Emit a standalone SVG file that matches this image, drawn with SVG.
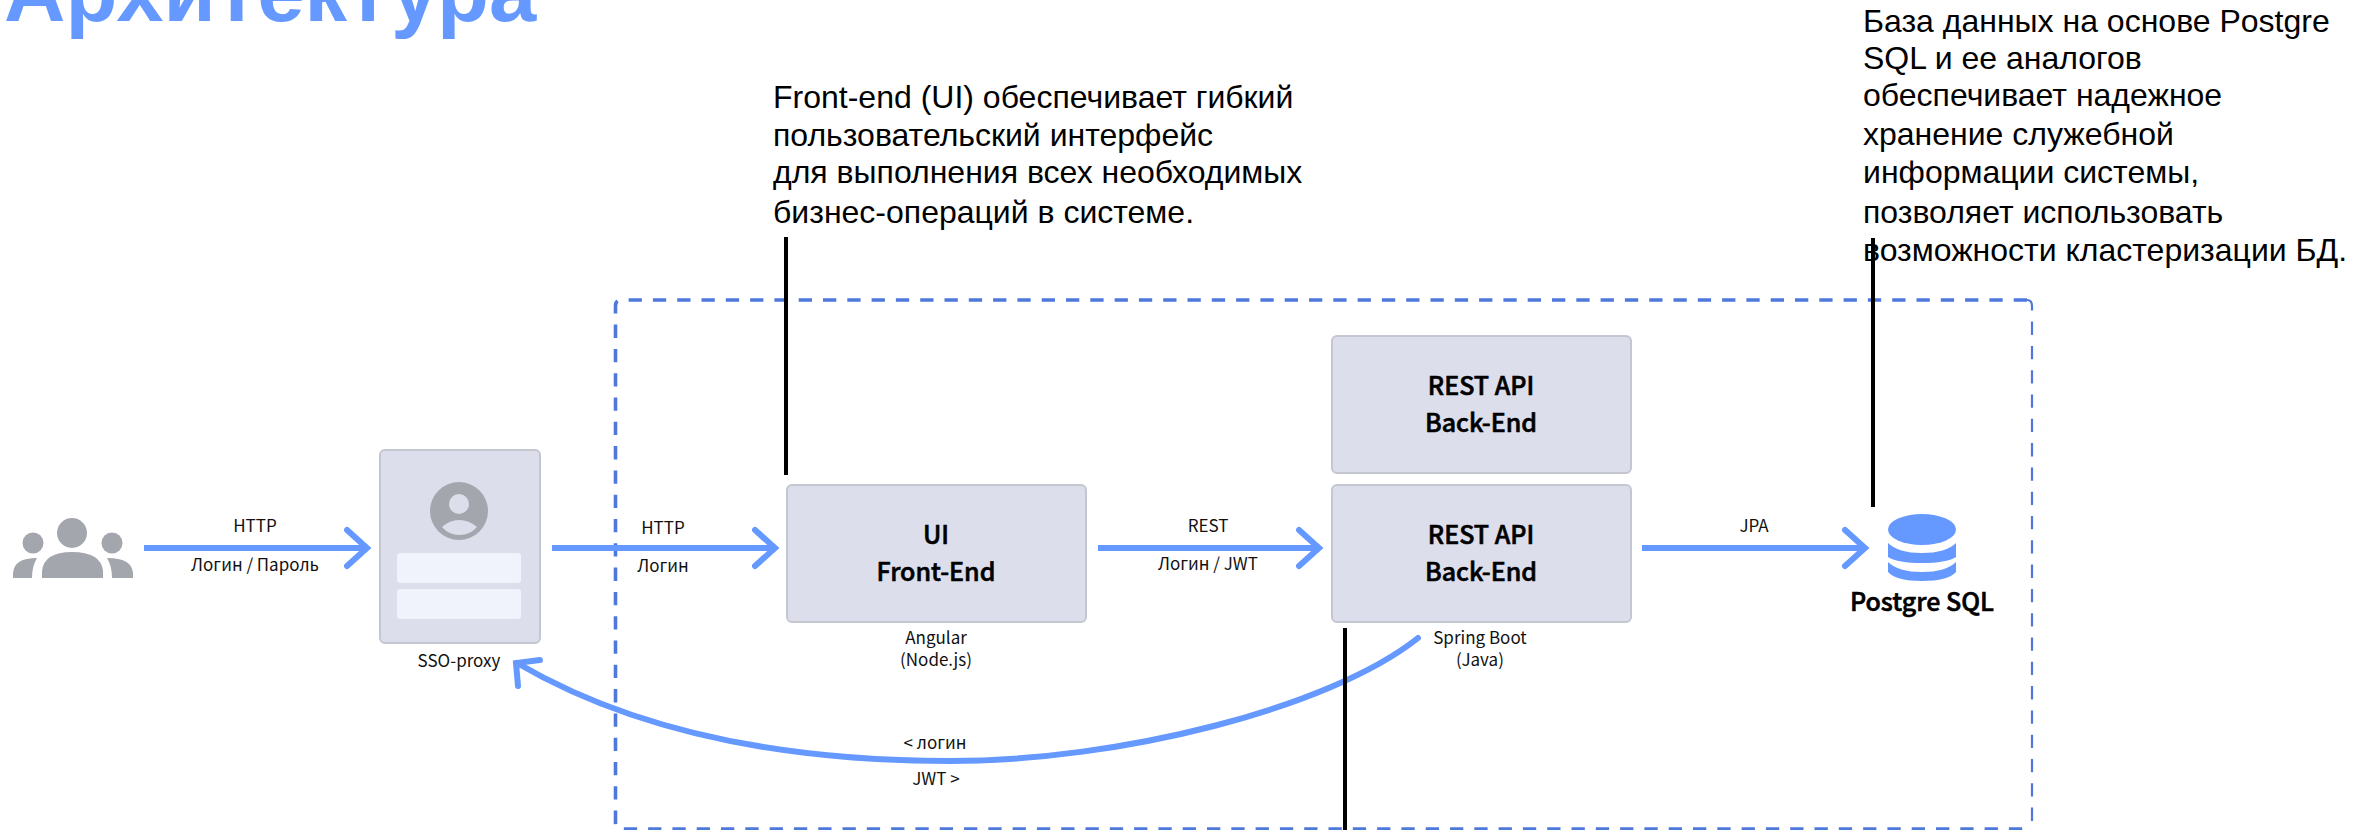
<svg xmlns="http://www.w3.org/2000/svg" width="2369" height="830" viewBox="0 0 2369 830">
<style>
.box{fill:#dcdfeb;stroke:#c4c6d0;stroke-width:2}
.row{fill:#f0f3fb}
.icon{fill:#a3a6ad}
.db{fill:#6699ff}
.flow{fill:none;stroke:#6699ff;stroke-width:6}
.curve{fill:none;stroke:#6699ff;stroke-width:6;stroke-linecap:round}
.lead{stroke:#000;stroke-width:4;fill:none}
.dash{fill:none;stroke:#4f78dc;stroke-dasharray:13.3 11}
.lbl{font-family:"Noto Sans CJK KR","Noto Sans",sans-serif;font-size:17px;fill:#111;text-anchor:middle}
.head{font-family:"Noto Sans CJK KR","Noto Sans",sans-serif;font-size:25px;font-weight:500;fill:#000;stroke:#000;stroke-width:0.6;text-anchor:middle}
.note{font-family:"Liberation Sans",Arial,sans-serif;font-size:32px;fill:#000}
.title{font-family:"Liberation Sans",Arial,sans-serif;font-size:85px;font-weight:700;fill:#6699ff}
</style>
<defs>
<marker id="ah" markerUnits="userSpaceOnUse" markerWidth="30" markerHeight="44" refX="24" refY="22" orient="auto" viewBox="0 0 30 44"><path d="M4 4L24 22L4 40" fill="none" stroke="#6699ff" stroke-width="6" stroke-linecap="round"/></marker>
</defs>
<text class="title" x="4" y="21">Архитектура</text>
<g id="note-ui">
<text class="note" x="773" y="108">Front-end (UI) обеспечивает гибкий</text>
<text class="note" x="773" y="146">пользовательский интерфейс</text>
<text class="note" x="773" y="183">для выполнения всех необходимых</text>
<text class="note" x="773" y="223">бизнес-операций в системе.</text>
</g>
<g id="note-db">
<text class="note" x="1863" y="32">База данных на основе Postgre</text>
<text class="note" x="1863" y="69">SQL и ее аналогов</text>
<text class="note" x="1863" y="106">обеспечивает надежное</text>
<text class="note" x="1863" y="145">хранение служебной</text>
<text class="note" x="1863" y="183">информации системы,</text>
<text class="note" x="1863" y="223">позволяет использовать</text>
<text class="note" x="1863" y="261">возможности кластеризации БД.</text>
</g>
<g id="boundary">
<path class="dash" stroke-width="3.6" d="M2027 300H621Q615.500 300 615.500 306V823Q615.500 829 621 829H2027"/>
<path class="dash" stroke-width="2.2" d="M2027 300Q2032 300 2032 306V823Q2032 829 2027 829"/>
</g>
<g id="users">
<circle class="icon" cx="72" cy="533" r="15"/>
<circle class="icon" cx="33" cy="543" r="10.5"/>
<circle class="icon" cx="112" cy="543" r="10.5"/>
<path class="icon" d="M42 578V571Q44 552 72 552Q101 552 103 571V578Z"/>
<path class="icon" d="M13 578V573Q14 558 37 558Q32 566 32 578Z"/>
<path class="icon" d="M107 558Q132 558 133 573V578H112Q112 566 107 558Z"/>
</g>
<g id="sso">
<rect class="box" x="380" y="450" width="160" height="193" rx="5"/>
<circle class="icon" cx="459" cy="511" r="29"/>
<ellipse cx="459" cy="504" rx="10" ry="10" fill="#dcdfeb"/>
<path d="M442 527Q450 520 459 520Q469 520 477 527Q470 535 459 535Q449 535 442 527Z" fill="#dcdfeb"/>
<rect class="row" x="397" y="553" width="124" height="30" rx="3"/>
<rect class="row" x="397" y="589" width="124" height="30" rx="3"/>
<text class="lbl" x="459" y="667">SSO-proxy</text>
</g>
<g id="ui">
<rect class="box" x="787" y="485" width="299" height="137" rx="5"/>
<text class="head" x="936" y="544">UI</text>
<text class="head" x="936" y="581">Front-End</text>
<text class="lbl" x="936" y="644">Angular</text>
<text class="lbl" x="936" y="666">(Node.js)</text>
</g>
<g id="backend-top">
<rect class="box" x="1332" y="336" width="299" height="137" rx="5"/>
<text class="head" x="1481" y="395">REST API</text>
<text class="head" x="1481" y="432">Back-End</text>
</g>
<g id="backend">
<rect class="box" x="1332" y="485" width="299" height="137" rx="5"/>
<text class="head" x="1481" y="544">REST API</text>
<text class="head" x="1481" y="581">Back-End</text>
<text class="lbl" x="1480" y="644">Spring Boot</text>
<text class="lbl" x="1480" y="666">(Java)</text>
</g>
<g id="db">
<ellipse class="db" cx="1922" cy="529.500" rx="34" ry="15.500"/>
<path class="db" d="M1888 543Q1898 553 1922 553Q1946 553 1956 543V557Q1946 563 1922 563Q1898 563 1888 557Z"/>
<path class="db" d="M1888 562Q1898 572 1922 572Q1946 572 1956 562V572Q1948 581 1922 581Q1896 581 1888 572Z"/>
<text class="head" x="1922" y="611">Postgre SQL</text>
</g>
<g id="connectors">
<line class="flow" x1="144" y1="548" x2="367" y2="548" marker-end="url(#ah)"/>
<line class="flow" x1="552" y1="548" x2="775" y2="548" marker-end="url(#ah)"/>
<line class="flow" x1="1098" y1="548" x2="1319" y2="548" marker-end="url(#ah)"/>
<line class="flow" x1="1642" y1="548" x2="1865" y2="548" marker-end="url(#ah)"/>
<path class="curve" d="M1418 638C1330 708 1120 761 950 761C790 761 640 735 517 663"/>
<path class="curve" d="M540 660L516 663L518 686"/>
<line class="lead" x1="786" y1="237" x2="786" y2="475"/>
<line class="lead" x1="1345" y1="628" x2="1345" y2="830"/>
<line class="lead" x1="1873" y1="238" x2="1873" y2="507"/>
<text class="lbl" x="255" y="532">HTTP</text>
<text class="lbl" x="255" y="571">Логин / Пароль</text>
<text class="lbl" x="663" y="534">HTTP</text>
<text class="lbl" x="663" y="572">Логин</text>
<text class="lbl" x="1208" y="532">REST</text>
<text class="lbl" x="1208" y="570">Логин / JWT</text>
<text class="lbl" x="1754" y="532">JPA</text>
<text class="lbl" x="935" y="749">&lt; логин</text>
<text class="lbl" x="936" y="785">JWT &gt;</text>
</g>
</svg>
